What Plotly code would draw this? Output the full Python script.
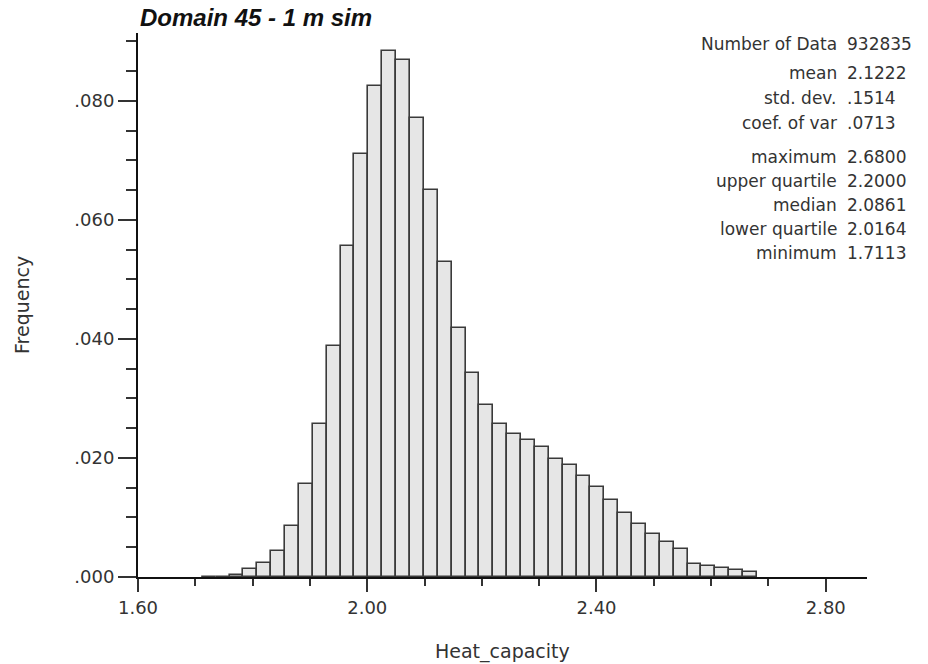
import numpy as np
import plotly.graph_objects as go

# ---- data ----
bin_min = 1.7113
bin_max = 2.6800
frequencies = [
    0.0000, 0.0000, 0.0004, 0.0013, 0.0023, 0.0043, 0.0086, 0.0157,
    0.0257, 0.0388, 0.0556, 0.0711, 0.0825, 0.0883, 0.0869, 0.0772,
    0.0650, 0.0530, 0.0418, 0.0343, 0.0289, 0.0257, 0.0240, 0.0230,
    0.0218, 0.0199, 0.0188, 0.0170, 0.0152, 0.0129, 0.0108, 0.0089,
    0.0073, 0.0058, 0.0047, 0.0022, 0.0018, 0.0015, 0.0012, 0.0009,
]
x_tick_vals = [1.60, 2.00, 2.40, 2.80]
x_tick_text = ["1.60", "2.00", "2.40", "2.80"]
y_tick_vals = [0.000, 0.020, 0.040, 0.060, 0.080]
y_tick_text = [".000", ".020", ".040", ".060", ".080"]
stat_labels = ["Number of Data", "mean", "std. dev.", "coef. of var",
               "maximum", "upper quartile", "median", "lower quartile", "minimum"]
stat_values = ["932835", "2.1222", ".1514", ".0713",
               "2.6800", "2.2000", "2.0861", "2.0164", "1.7113"]
title_text = "Domain 45 - 1 m sim"
x_title = "Heat_capacity"
y_title = "Frequency"

# ---- derived bins ----
n_bins = len(frequencies)
bw = (bin_max - bin_min) / n_bins
centers = bin_min + bw * (np.arange(n_bins) + 0.5)

# ---- layout geometry (pixels) ----
W, H = 928, 664
L, R, T, B = 138, 61, 33, 87
pw, ph = W - L - R, H - T - B

def px_x(px):
    return (px - L) / pw

def px_y(py):
    return (H - B - py) / ph

FONT = "DejaVu Sans"
TXT = "#333333"

fig = go.Figure()
fig.add_trace(go.Bar(
    x=centers, y=frequencies, width=bw,
    marker=dict(color="#e6e6e6", line=dict(color="#3a3a3a", width=1.6)),
    hoverinfo="skip", showlegend=False,
))

annotations = []
annotations.append(dict(
    text="<b><i>" + title_text + "</i></b>", x=0, y=px_y(18), xref="paper", yref="paper",
    xanchor="left", yanchor="middle", showarrow=False,
    font=dict(family="Liberation Sans", size=24, color="#111111"),
))
annotations.append(dict(
    text=x_title, x=0.5, y=px_y(651), xref="paper", yref="paper",
    xanchor="center", yanchor="middle", showarrow=False,
    font=dict(family=FONT, size=19, color=TXT),
))
annotations.append(dict(
    text=y_title, x=px_x(22), y=0.5, xref="paper", yref="paper",
    xanchor="center", yanchor="middle", showarrow=False, textangle=-90,
    font=dict(family=FONT, size=19, color=TXT),
))

row_y = [44, 73, 98, 123, 157, 181, 205, 229, 253]
for lab, val, yy in zip(stat_labels, stat_values, row_y):
    annotations.append(dict(
        text=lab, x=px_x(839), y=px_y(yy), xref="paper", yref="paper",
        xanchor="right", yanchor="middle", showarrow=False,
        font=dict(family=FONT, size=17, color=TXT),
    ))
    annotations.append(dict(
        text=val, x=px_x(845), y=px_y(yy), xref="paper", yref="paper",
        xanchor="left", yanchor="middle", showarrow=False,
        font=dict(family=FONT, size=17, color=TXT),
    ))

fig.update_layout(
    width=W, height=H, autosize=False,
    margin=dict(l=L, r=R, t=T, b=B, pad=0),
    paper_bgcolor="white", plot_bgcolor="white",
    bargap=0,
    annotations=annotations,
    xaxis=dict(
        range=[1.6, 2.872], showgrid=False, zeroline=False,
        showline=True, linecolor="#111111", linewidth=2,
        ticks="outside", ticklen=13, tickwidth=1.5, tickcolor="#333333",
        tickmode="array", tickvals=x_tick_vals, ticktext=x_tick_text,
        tickfont=dict(family=FONT, size=18, color=TXT),
        minor=dict(tickmode="linear", tick0=1.6, dtick=0.1, ticks="outside",
                   ticklen=7, tickwidth=1.5, tickcolor="#333333", showgrid=False),
    ),
    yaxis=dict(
        range=[0, 0.0914], showgrid=False, zeroline=False,
        showline=True, linecolor="#111111", linewidth=2,
        ticks="outside", ticklen=18, tickwidth=1.5, tickcolor="#333333",
        tickmode="array", tickvals=y_tick_vals, ticktext=y_tick_text,
        tickfont=dict(family=FONT, size=18, color=TXT),
        minor=dict(tickmode="linear", tick0=0, dtick=0.005, ticks="outside",
                   ticklen=10, tickwidth=1.5, tickcolor="#333333", showgrid=False),
    ),
)

fig.write_html("out.html")
